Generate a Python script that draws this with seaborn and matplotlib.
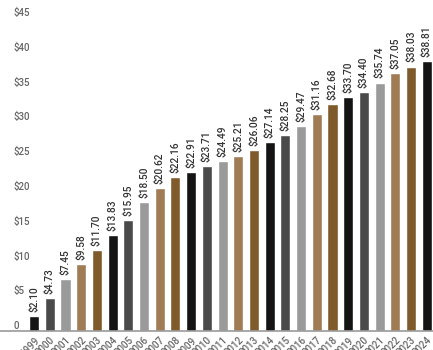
import matplotlib
matplotlib.use("Agg")
import matplotlib.pyplot as plt
import seaborn as sns
import pandas as pd

# Values
years = [str(y) for y in range(1999, 2025)]
prices = [2.10, 4.73, 7.45, 9.58, 11.70, 13.83, 15.95, 18.50, 20.62, 22.16,
          22.91, 23.71, 24.49, 25.21, 26.06, 27.14, 28.25, 29.47, 31.16, 32.68,
          33.70, 34.40, 35.74, 37.05, 38.03, 38.81]
y_ticks = [0, 5, 10, 15, 20, 25, 30, 35, 40, 45]
y_tick_labels = ["0", "$5", "$10", "$15", "$20", "$25", "$30", "$35", "$40", "$45"]

# Repeating five-colour cycle
cycle = ["#141414", "#4a4a4a", "#9a9a9a", "#a07c55", "#7f5a2b"]
colors = [cycle[i % 5] for i in range(len(years))]

df = pd.DataFrame({"Year": years, "Price": prices})

sns.set_style("white")
plt.rcParams["font.family"] = ["Roboto", "DejaVu Sans"]

fig = plt.figure(figsize=(4.33, 3.5), dpi=100)
ax = fig.add_axes([0.0, 0.054, 1.0, 0.894])

sns.barplot(data=df, x="Year", y="Price", hue="Year", palette=colors,
            legend=False, width=0.64, saturation=1, ax=ax)

for cont in ax.containers:
    ax.bar_label(cont, fmt="${:.2f}", rotation=90, padding=3,
                 fontsize=7.3, color="#333333", fontweight="medium")

ax.set_xlim(-2.17, 25.4)
ax.set_ylim(0, 45)
ax.set_yticks(y_ticks)
ax.set_yticklabels(y_tick_labels)
ax.set_xlabel("")
ax.set_ylabel("")

ax.tick_params(axis="y", length=0, pad=-10, labelsize=7, labelcolor="#666666")
for lbl in ax.get_yticklabels():
    lbl.set_horizontalalignment("left")
    lbl.set_verticalalignment("bottom")
    lbl.set_fontweight("medium")

ax.tick_params(axis="x", length=0, pad=3, labelsize=7, labelcolor="#666666")
for lbl in ax.get_xticklabels():
    lbl.set_rotation(45)
    lbl.set_horizontalalignment("right")
    lbl.set_rotation_mode("anchor")
    lbl.set_fontweight("medium")

sns.despine(ax=ax, left=True)
ax.spines["bottom"].set_color("#999999")
ax.spines["bottom"].set_linewidth(1.2)

fig.savefig("out.png", dpi=100)
